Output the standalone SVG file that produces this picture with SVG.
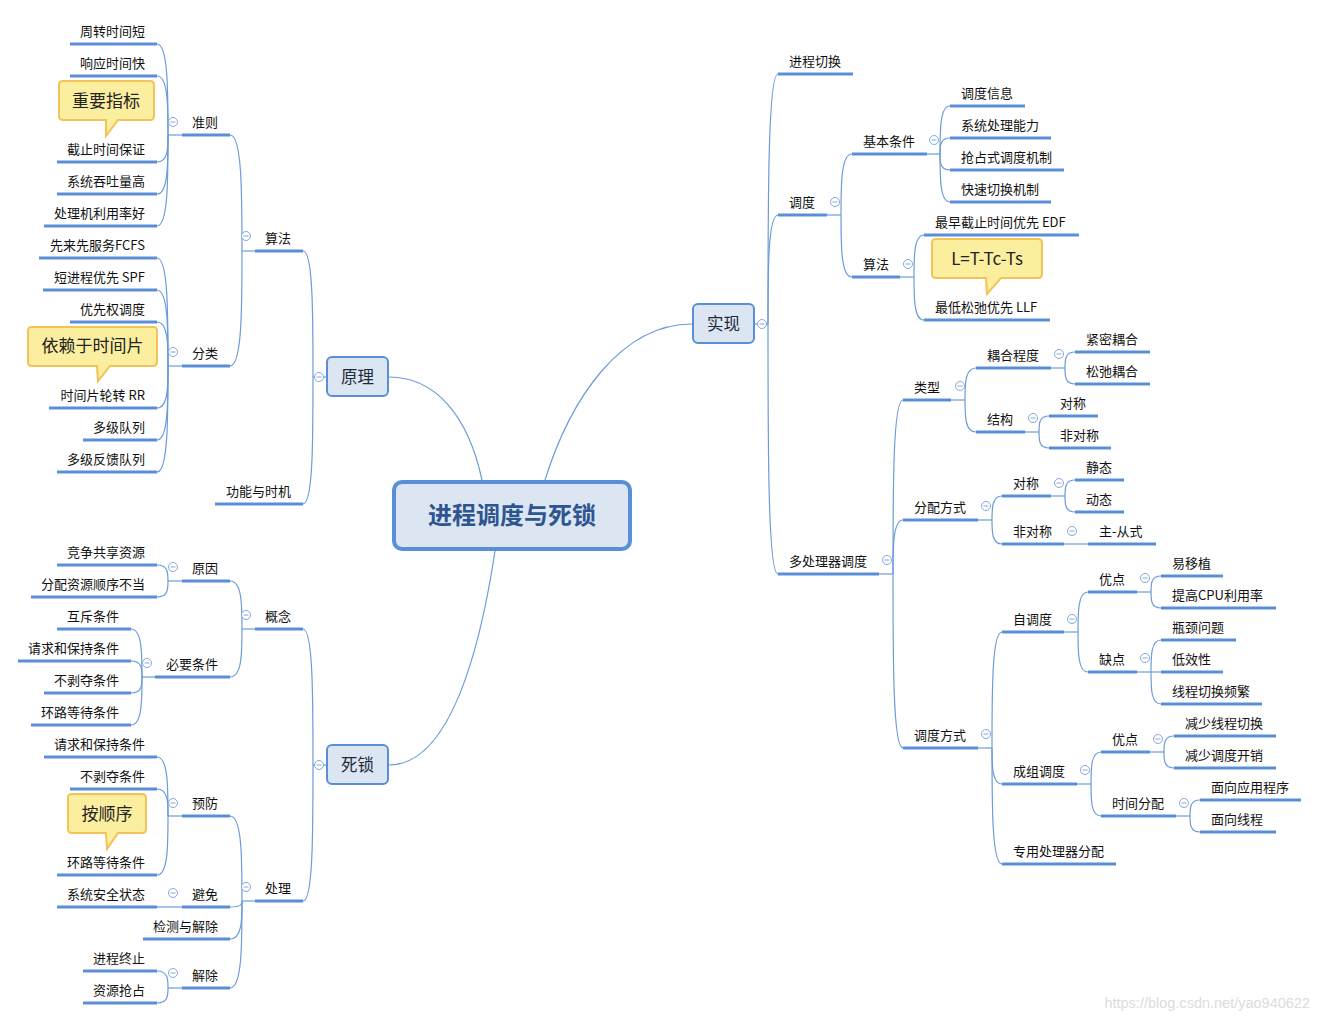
<svg xmlns="http://www.w3.org/2000/svg" width="1319" height="1020" viewBox="0 0 1319 1020">
<defs>
<style>
.ul{stroke:#5a8fd8;stroke-width:3}
.cn{fill:none;stroke:#6b9bd9;stroke-width:1.2}
.t{font-family:"Noto Sans CJK SC","Microsoft YaHei",sans-serif;font-size:13px;fill:#111}
.e{text-anchor:end}
.mc{fill:#fff;stroke:#86a8dc;stroke-width:1}
.ml{stroke:#86a8dc;stroke-width:1}
.box{fill:#dce6f2;stroke:#5a8fd8;stroke-width:2}
.bt{font-family:"Noto Sans CJK SC","Microsoft YaHei",sans-serif;font-size:16.5px;fill:#1e2a3a;text-anchor:middle}
.call{fill:#fbee9f;stroke:#f3c357;stroke-width:2}
.ct{font-family:"Noto Sans CJK SC","Microsoft YaHei",sans-serif;font-size:17px;fill:#222;text-anchor:middle}
</style>
<g id="mn"><circle r="4.5" class="mc"/><line x1="-2.5" y1="0" x2="2.5" y2="0" class="ml"/></g>
</defs>
<rect width="1319" height="1020" fill="#fff"/>

<g id="connectors">
<path class="cn" d="M389 377C435 377 468 415 482 480"/>
<path class="cn" d="M545 480C570 400 620 324 692 324"/>
<path class="cn" d="M495 551C480 650 450 765 389 765"/>
<path class="cn" d="M313 377H326"/>
<path class="cn" d="M313 377C313 314 313 251 303 251"/>
<path class="cn" d="M313 377C313 440.5 313 504 303 504"/>
<path class="cn" d="M242 251H255"/>
<path class="cn" d="M242 251C242 193 242 135 230 135"/>
<path class="cn" d="M242 251C242 308.5 242 366 230 366"/>
<path class="cn" d="M168 135H182"/>
<path class="cn" d="M168 135C168 89.5 168 44 157 44"/>
<path class="cn" d="M168 135C168 105.5 168 76 157 76"/>
<path class="cn" d="M168 135C168 148.5 168 162 157 162"/>
<path class="cn" d="M168 135C168 164.5 168 194 157 194"/>
<path class="cn" d="M168 135C168 180.5 168 226 157 226"/>
<path class="cn" d="M168 366H182"/>
<path class="cn" d="M168 366C168 312 168 258 157 258"/>
<path class="cn" d="M168 366C168 328 168 290 157 290"/>
<path class="cn" d="M168 366C168 344 168 322 157 322"/>
<path class="cn" d="M168 366C168 387 168 408 157 408"/>
<path class="cn" d="M168 366C168 403 168 440 157 440"/>
<path class="cn" d="M168 366C168 419 168 472 157 472"/>
<path class="cn" d="M313 765H326"/>
<path class="cn" d="M313 765C313 697 313 629 303 629"/>
<path class="cn" d="M313 765C313 833 313 901 303 901"/>
<path class="cn" d="M242 629H255"/>
<path class="cn" d="M242 629C242 605 242 581 230 581"/>
<path class="cn" d="M242 629C242 653 242 677 230 677"/>
<path class="cn" d="M168 581H182"/>
<path class="cn" d="M168 581C168 573 168 565 157 565"/>
<path class="cn" d="M168 581C168 589 168 597 157 597"/>
<path class="cn" d="M142 677H155"/>
<path class="cn" d="M142 677C142 653 142 629 131 629"/>
<path class="cn" d="M142 677C142 669 142 661 131 661"/>
<path class="cn" d="M142 677C142 685 142 693 131 693"/>
<path class="cn" d="M142 677C142 701 142 725 131 725"/>
<path class="cn" d="M242 901H255"/>
<path class="cn" d="M242 901C242 858.5 242 816 230 816"/>
<path class="cn" d="M242 901C242 904 242 907 230 907"/>
<path class="cn" d="M242 901C242 920 242 939 230 939"/>
<path class="cn" d="M242 901C242 944.5 242 988 230 988"/>
<path class="cn" d="M168 816H182"/>
<path class="cn" d="M168 816C168 786.5 168 757 157 757"/>
<path class="cn" d="M168 816C168 802.5 168 789 157 789"/>
<path class="cn" d="M168 816C168 845.5 168 875 157 875"/>
<path class="cn" d="M157 907H182"/>
<path class="cn" d="M168 988H182"/>
<path class="cn" d="M168 988C168 979.5 168 971 157 971"/>
<path class="cn" d="M168 988C168 995.5 168 1003 157 1003"/>
<path class="cn" d="M755 324H768"/>
<path class="cn" d="M768 324C768 199 768 74 778 74"/>
<path class="cn" d="M768 324C768 269.5 768 215 778 215"/>
<path class="cn" d="M768 324C768 449 768 574 778 574"/>
<path class="cn" d="M827 215H841"/>
<path class="cn" d="M841 215C841 184.5 841 154 852 154"/>
<path class="cn" d="M841 215C841 246 841 277 852 277"/>
<path class="cn" d="M927 154H940"/>
<path class="cn" d="M940 154C940 130 940 106 950 106"/>
<path class="cn" d="M940 154C940 146 940 138 950 138"/>
<path class="cn" d="M940 154C940 162 940 170 950 170"/>
<path class="cn" d="M940 154C940 178 940 202 950 202"/>
<path class="cn" d="M900 277H914"/>
<path class="cn" d="M914 277C914 256 914 235 924 235"/>
<path class="cn" d="M914 277C914 298.5 914 320 924 320"/>
<path class="cn" d="M879 574H893"/>
<path class="cn" d="M893 574C893 487 893 400 903 400"/>
<path class="cn" d="M893 574C893 547 893 520 903 520"/>
<path class="cn" d="M893 574C893 661 893 748 903 748"/>
<path class="cn" d="M951 400H965"/>
<path class="cn" d="M965 400C965 384 965 368 976 368"/>
<path class="cn" d="M965 400C965 416 965 432 976 432"/>
<path class="cn" d="M1051 368H1065"/>
<path class="cn" d="M1065 368C1065 360 1065 352 1075 352"/>
<path class="cn" d="M1065 368C1065 376 1065 384 1075 384"/>
<path class="cn" d="M1025 432H1039"/>
<path class="cn" d="M1039 432C1039 424 1039 416 1049 416"/>
<path class="cn" d="M1039 432C1039 440 1039 448 1049 448"/>
<path class="cn" d="M978 520H992"/>
<path class="cn" d="M992 520C992 508 992 496 1002 496"/>
<path class="cn" d="M992 520C992 532 992 544 1002 544"/>
<path class="cn" d="M1051 496H1065"/>
<path class="cn" d="M1065 496C1065 488 1065 480 1075 480"/>
<path class="cn" d="M1065 496C1065 504 1065 512 1075 512"/>
<path class="cn" d="M1064 544H1088"/>
<path class="cn" d="M978 748H992"/>
<path class="cn" d="M992 748C992 690 992 632 1002 632"/>
<path class="cn" d="M992 748C992 766 992 784 1002 784"/>
<path class="cn" d="M992 748C992 806 992 864 1002 864"/>
<path class="cn" d="M1064 632H1078"/>
<path class="cn" d="M1078 632C1078 612 1078 592 1088 592"/>
<path class="cn" d="M1078 632C1078 652 1078 672 1088 672"/>
<path class="cn" d="M1137 592H1151"/>
<path class="cn" d="M1151 592C1151 584 1151 576 1161 576"/>
<path class="cn" d="M1151 592C1151 600 1151 608 1161 608"/>
<path class="cn" d="M1137 672H1151"/>
<path class="cn" d="M1151 672C1151 656 1151 640 1161 640"/>
<path class="cn" d="M1151 672H1161"/>
<path class="cn" d="M1151 672C1151 688 1151 704 1161 704"/>
<path class="cn" d="M1077 784H1091"/>
<path class="cn" d="M1091 784C1091 768 1091 752 1101 752"/>
<path class="cn" d="M1091 784C1091 800 1091 816 1101 816"/>
<path class="cn" d="M1150 752H1164"/>
<path class="cn" d="M1164 752C1164 744 1164 736 1174 736"/>
<path class="cn" d="M1164 752C1164 760 1164 768 1174 768"/>
<path class="cn" d="M1176 816H1190"/>
<path class="cn" d="M1190 816C1190 808 1190 800 1200 800"/>
<path class="cn" d="M1190 816C1190 824 1190 832 1200 832"/>
</g>

<g id="root"><rect x="394" y="482" width="236" height="67" rx="8" fill="#dce6f2" stroke="#5a8fd8" stroke-width="4"/><text x="512" y="524" text-anchor="middle" font-family="'Noto Sans CJK SC','Microsoft YaHei',sans-serif" font-size="24" font-weight="bold" fill="#2e5590">进程调度与死锁</text></g>

<g id="n-yuanli"><rect class="box" x="327" y="357" width="61" height="39" rx="5"/><text class="bt" x="357.5" y="383">原理</text><use href="#mn" x="319" y="377"/></g>
<g id="n-shixian"><rect class="box" x="693" y="304" width="61" height="39" rx="5"/><text class="bt" x="723.5" y="330">实现</text><use href="#mn" x="762" y="324"/></g>
<g id="n-sisuo"><rect class="box" x="327" y="745" width="61" height="39" rx="5"/><text class="bt" x="357.5" y="771">死锁</text><use href="#mn" x="319" y="765"/></g>

<!-- left labels -->
<g id="n-suanfa-l"><line class="ul" x1="255" y1="251" x2="303" y2="251"/><text class="t" x="265" y="243">算法</text><use href="#mn" x="246" y="236"/></g>
<g id="n-zhunze"><line class="ul" x1="182" y1="135" x2="230" y2="135"/><text class="t" x="192" y="127">准则</text><use href="#mn" x="173" y="122"/></g>
<g id="n-fenlei"><line class="ul" x1="182" y1="366" x2="230" y2="366"/><text class="t" x="192" y="358">分类</text><use href="#mn" x="173" y="352"/></g>
<g id="n-gainian"><line class="ul" x1="255" y1="629" x2="303" y2="629"/><text class="t" x="265" y="621">概念</text><use href="#mn" x="246" y="615"/></g>
<g id="n-yuanyin"><line class="ul" x1="182" y1="581" x2="230" y2="581"/><text class="t" x="192" y="573">原因</text><use href="#mn" x="173" y="567"/></g>
<g id="n-biyao"><line class="ul" x1="155" y1="677" x2="230" y2="677"/><text class="t" x="166" y="669">必要条件</text><use href="#mn" x="147" y="663"/></g>
<g id="n-chuli"><line class="ul" x1="255" y1="901" x2="303" y2="901"/><text class="t" x="265" y="893">处理</text><use href="#mn" x="246" y="887"/></g>
<g id="n-yufang"><line class="ul" x1="182" y1="816" x2="230" y2="816"/><text class="t" x="192" y="808">预防</text><use href="#mn" x="173" y="803"/></g>
<g id="n-bimian"><line class="ul" x1="182" y1="907" x2="230" y2="907"/><text class="t" x="192" y="899">避免</text><use href="#mn" x="173" y="893"/></g>
<g id="n-jiechu"><line class="ul" x1="182" y1="988" x2="230" y2="988"/><text class="t" x="192" y="980">解除</text><use href="#mn" x="173" y="973"/></g>

<!-- left leaves -->
<g id="l1"><line class="ul" x1="70" y1="44" x2="157" y2="44"/><text class="t e" x="145" y="36">周转时间短</text></g>
<g id="l2"><line class="ul" x1="70" y1="76" x2="157" y2="76"/><text class="t e" x="145" y="68">响应时间快</text></g>
<g id="l3"><line class="ul" x1="57" y1="162" x2="157" y2="162"/><text class="t e" x="145" y="154">截止时间保证</text></g>
<g id="l4"><line class="ul" x1="57" y1="194" x2="157" y2="194"/><text class="t e" x="145" y="186">系统吞吐量高</text></g>
<g id="l5"><line class="ul" x1="44" y1="226" x2="157" y2="226"/><text class="t e" x="145" y="218">处理机利用率好</text></g>
<g id="l6"><line class="ul" x1="39" y1="258" x2="157" y2="258"/><text class="t e" x="145" y="250">先来先服务FCFS</text></g>
<g id="l7"><line class="ul" x1="43" y1="290" x2="157" y2="290"/><text class="t e" x="145" y="282">短进程优先 SPF</text></g>
<g id="l8"><line class="ul" x1="70" y1="322" x2="157" y2="322"/><text class="t e" x="145" y="314">优先权调度</text></g>
<g id="l9"><line class="ul" x1="49" y1="408" x2="157" y2="408"/><text class="t e" x="145" y="400">时间片轮转 RR</text></g>
<g id="l10"><line class="ul" x1="83" y1="440" x2="157" y2="440"/><text class="t e" x="145" y="432">多级队列</text></g>
<g id="l11"><line class="ul" x1="57" y1="472" x2="157" y2="472"/><text class="t e" x="145" y="464">多级反馈队列</text></g>
<g id="l12"><line class="ul" x1="215" y1="504" x2="303" y2="504"/><text class="t e" x="291" y="496">功能与时机</text></g>
<g id="l13"><line class="ul" x1="57" y1="565" x2="157" y2="565"/><text class="t e" x="145" y="557">竞争共享资源</text></g>
<g id="l14"><line class="ul" x1="31" y1="597" x2="157" y2="597"/><text class="t e" x="145" y="589">分配资源顺序不当</text></g>
<g id="l15"><line class="ul" x1="57" y1="629" x2="131" y2="629"/><text class="t e" x="119" y="621">互斥条件</text></g>
<g id="l16"><line class="ul" x1="18" y1="661" x2="131" y2="661"/><text class="t e" x="119" y="653">请求和保持条件</text></g>
<g id="l17"><line class="ul" x1="44" y1="693" x2="131" y2="693"/><text class="t e" x="119" y="685">不剥夺条件</text></g>
<g id="l18"><line class="ul" x1="31" y1="725" x2="131" y2="725"/><text class="t e" x="119" y="717">环路等待条件</text></g>
<g id="l19"><line class="ul" x1="44" y1="757" x2="157" y2="757"/><text class="t e" x="145" y="749">请求和保持条件</text></g>
<g id="l20"><line class="ul" x1="70" y1="789" x2="157" y2="789"/><text class="t e" x="145" y="781">不剥夺条件</text></g>
<g id="l21"><line class="ul" x1="57" y1="875" x2="157" y2="875"/><text class="t e" x="145" y="867">环路等待条件</text></g>
<g id="l22"><line class="ul" x1="57" y1="907" x2="157" y2="907"/><text class="t e" x="145" y="899">系统安全状态</text></g>
<g id="l23"><line class="ul" x1="143" y1="939" x2="230" y2="939"/><text class="t e" x="218" y="931">检测与解除</text></g>
<g id="l24"><line class="ul" x1="83" y1="971" x2="157" y2="971"/><text class="t e" x="145" y="963">进程终止</text></g>
<g id="l25"><line class="ul" x1="83" y1="1003" x2="157" y2="1003"/><text class="t e" x="145" y="995">资源抢占</text></g>

<!-- right labels -->
<g id="r-jcqh"><line class="ul" x1="778" y1="74" x2="853" y2="74"/><text class="t" x="789" y="66">进程切换</text></g>
<g id="r-diaodu"><line class="ul" x1="778" y1="215" x2="827" y2="215"/><text class="t" x="789" y="207">调度</text><use href="#mn" x="835" y="202"/></g>
<g id="r-jbtj"><line class="ul" x1="852" y1="154" x2="927" y2="154"/><text class="t" x="863" y="146">基本条件</text><use href="#mn" x="934" y="140"/></g>
<g id="r-suanfa"><line class="ul" x1="852" y1="277" x2="900" y2="277"/><text class="t" x="863" y="269">算法</text><use href="#mn" x="908" y="264"/></g>
<g id="r-dclq"><line class="ul" x1="778" y1="574" x2="879" y2="574"/><text class="t" x="789" y="566">多处理器调度</text><use href="#mn" x="887" y="560"/></g>
<g id="r-leixing"><line class="ul" x1="903" y1="400" x2="951" y2="400"/><text class="t" x="914" y="392">类型</text><use href="#mn" x="960" y="386"/></g>
<g id="r-ouhe"><line class="ul" x1="976" y1="368" x2="1051" y2="368"/><text class="t" x="987" y="360">耦合程度</text><use href="#mn" x="1059" y="354"/></g>
<g id="r-jiegou"><line class="ul" x1="976" y1="432" x2="1025" y2="432"/><text class="t" x="987" y="424">结构</text><use href="#mn" x="1033" y="418"/></g>
<g id="r-fpfs"><line class="ul" x1="903" y1="520" x2="978" y2="520"/><text class="t" x="914" y="512">分配方式</text><use href="#mn" x="986" y="506"/></g>
<g id="r-duichen"><line class="ul" x1="1002" y1="496" x2="1051" y2="496"/><text class="t" x="1013" y="488">对称</text><use href="#mn" x="1059" y="483"/></g>
<g id="r-fdc"><line class="ul" x1="1002" y1="544" x2="1064" y2="544"/><text class="t" x="1013" y="536">非对称</text><use href="#mn" x="1072" y="531"/></g>
<g id="r-ddfs"><line class="ul" x1="903" y1="748" x2="978" y2="748"/><text class="t" x="914" y="740">调度方式</text><use href="#mn" x="986" y="734"/></g>
<g id="r-zdd"><line class="ul" x1="1002" y1="632" x2="1064" y2="632"/><text class="t" x="1013" y="624">自调度</text><use href="#mn" x="1072" y="619"/></g>
<g id="r-yd1"><line class="ul" x1="1088" y1="592" x2="1137" y2="592"/><text class="t" x="1099" y="584">优点</text><use href="#mn" x="1145" y="578"/></g>
<g id="r-qd"><line class="ul" x1="1088" y1="672" x2="1137" y2="672"/><text class="t" x="1099" y="664">缺点</text><use href="#mn" x="1145" y="658"/></g>
<g id="r-czdd"><line class="ul" x1="1002" y1="784" x2="1077" y2="784"/><text class="t" x="1013" y="776">成组调度</text><use href="#mn" x="1085" y="770"/></g>
<g id="r-yd2"><line class="ul" x1="1101" y1="752" x2="1150" y2="752"/><text class="t" x="1112" y="744">优点</text><use href="#mn" x="1158" y="739"/></g>
<g id="r-sjfp"><line class="ul" x1="1101" y1="816" x2="1176" y2="816"/><text class="t" x="1112" y="808">时间分配</text><use href="#mn" x="1184" y="803"/></g>
<g id="r-zycl"><line class="ul" x1="1002" y1="864" x2="1116" y2="864"/><text class="t" x="1013" y="856">专用处理器分配</text></g>

<!-- right leaves -->
<g id="r1"><line class="ul" x1="950" y1="106" x2="1025" y2="106"/><text class="t" x="961" y="98">调度信息</text></g>
<g id="r2"><line class="ul" x1="950" y1="138" x2="1051" y2="138"/><text class="t" x="961" y="130">系统处理能力</text></g>
<g id="r3"><line class="ul" x1="950" y1="170" x2="1064" y2="170"/><text class="t" x="961" y="162">抢占式调度机制</text></g>
<g id="r4"><line class="ul" x1="950" y1="202" x2="1051" y2="202"/><text class="t" x="961" y="194">快速切换机制</text></g>
<g id="r5"><line class="ul" x1="924" y1="235" x2="1079" y2="235"/><text class="t" x="935" y="227">最早截止时间优先 EDF</text></g>
<g id="r6"><line class="ul" x1="924" y1="320" x2="1050" y2="320"/><text class="t" x="935" y="312">最低松弛优先 LLF</text></g>
<g id="r7"><line class="ul" x1="1075" y1="352" x2="1150" y2="352"/><text class="t" x="1086" y="344">紧密耦合</text></g>
<g id="r8"><line class="ul" x1="1075" y1="384" x2="1150" y2="384"/><text class="t" x="1086" y="376">松弛耦合</text></g>
<g id="r9"><line class="ul" x1="1049" y1="416" x2="1098" y2="416"/><text class="t" x="1060" y="408">对称</text></g>
<g id="r10"><line class="ul" x1="1049" y1="448" x2="1111" y2="448"/><text class="t" x="1060" y="440">非对称</text></g>
<g id="r11"><line class="ul" x1="1075" y1="480" x2="1124" y2="480"/><text class="t" x="1086" y="472">静态</text></g>
<g id="r12"><line class="ul" x1="1075" y1="512" x2="1124" y2="512"/><text class="t" x="1086" y="504">动态</text></g>
<g id="r13"><line class="ul" x1="1088" y1="544" x2="1156" y2="544"/><text class="t" x="1099" y="536">主-从式</text></g>
<g id="r14"><line class="ul" x1="1161" y1="576" x2="1223" y2="576"/><text class="t" x="1172" y="568">易移植</text></g>
<g id="r15"><line class="ul" x1="1161" y1="608" x2="1276" y2="608"/><text class="t" x="1172" y="600">提高CPU利用率</text></g>
<g id="r16"><line class="ul" x1="1161" y1="640" x2="1236" y2="640"/><text class="t" x="1172" y="632">瓶颈问题</text></g>
<g id="r17"><line class="ul" x1="1161" y1="672" x2="1223" y2="672"/><text class="t" x="1172" y="664">低效性</text></g>
<g id="r18"><line class="ul" x1="1161" y1="704" x2="1262" y2="704"/><text class="t" x="1172" y="696">线程切换频繁</text></g>
<g id="r19"><line class="ul" x1="1174" y1="736" x2="1276" y2="736"/><text class="t" x="1185" y="728">减少线程切换</text></g>
<g id="r20"><line class="ul" x1="1174" y1="768" x2="1276" y2="768"/><text class="t" x="1185" y="760">减少调度开销</text></g>
<g id="r21"><line class="ul" x1="1200" y1="800" x2="1301" y2="800"/><text class="t" x="1211" y="792">面向应用程序</text></g>
<g id="r22"><line class="ul" x1="1200" y1="832" x2="1276" y2="832"/><text class="t" x="1211" y="824">面向线程</text></g>

<!-- callouts -->
<g id="c1"><path class="call" d="M63 81H150Q154 81 154 85V116Q154 120 150 120H118L106 136L106 120H63Q59 120 59 116V85Q59 81 63 81Z"/><text class="ct" x="106" y="107">重要指标</text></g>
<g id="c2"><path class="call" d="M32 327H153Q157 327 157 331V362Q157 366 153 366H110L98 381L97 366H32Q28 366 28 362V331Q28 327 32 327Z"/><text class="ct" x="92.5" y="352">依赖于时间片</text></g>
<g id="c3"><path class="call" d="M72 794H142Q146 794 146 798V829Q146 833 142 833H118L107 849L106 833H72Q68 833 68 829V798Q68 794 72 794Z"/><text class="ct" x="107" y="820">按顺序</text></g>
<g id="c4"><path class="call" d="M936 239H1038Q1042 239 1042 243V274Q1042 278 1038 278H1001L987 294L986 278H936Q932 278 932 274V243Q932 239 936 239Z"/><text class="ct" x="987" y="265">L=T-Tc-Ts</text></g>

<text x="1310" y="1008" text-anchor="end" font-family="'Liberation Sans',Arial,sans-serif" font-size="14.5" fill="#dcdcdc">https://blog.csdn.net/yao940622</text>
</svg>
